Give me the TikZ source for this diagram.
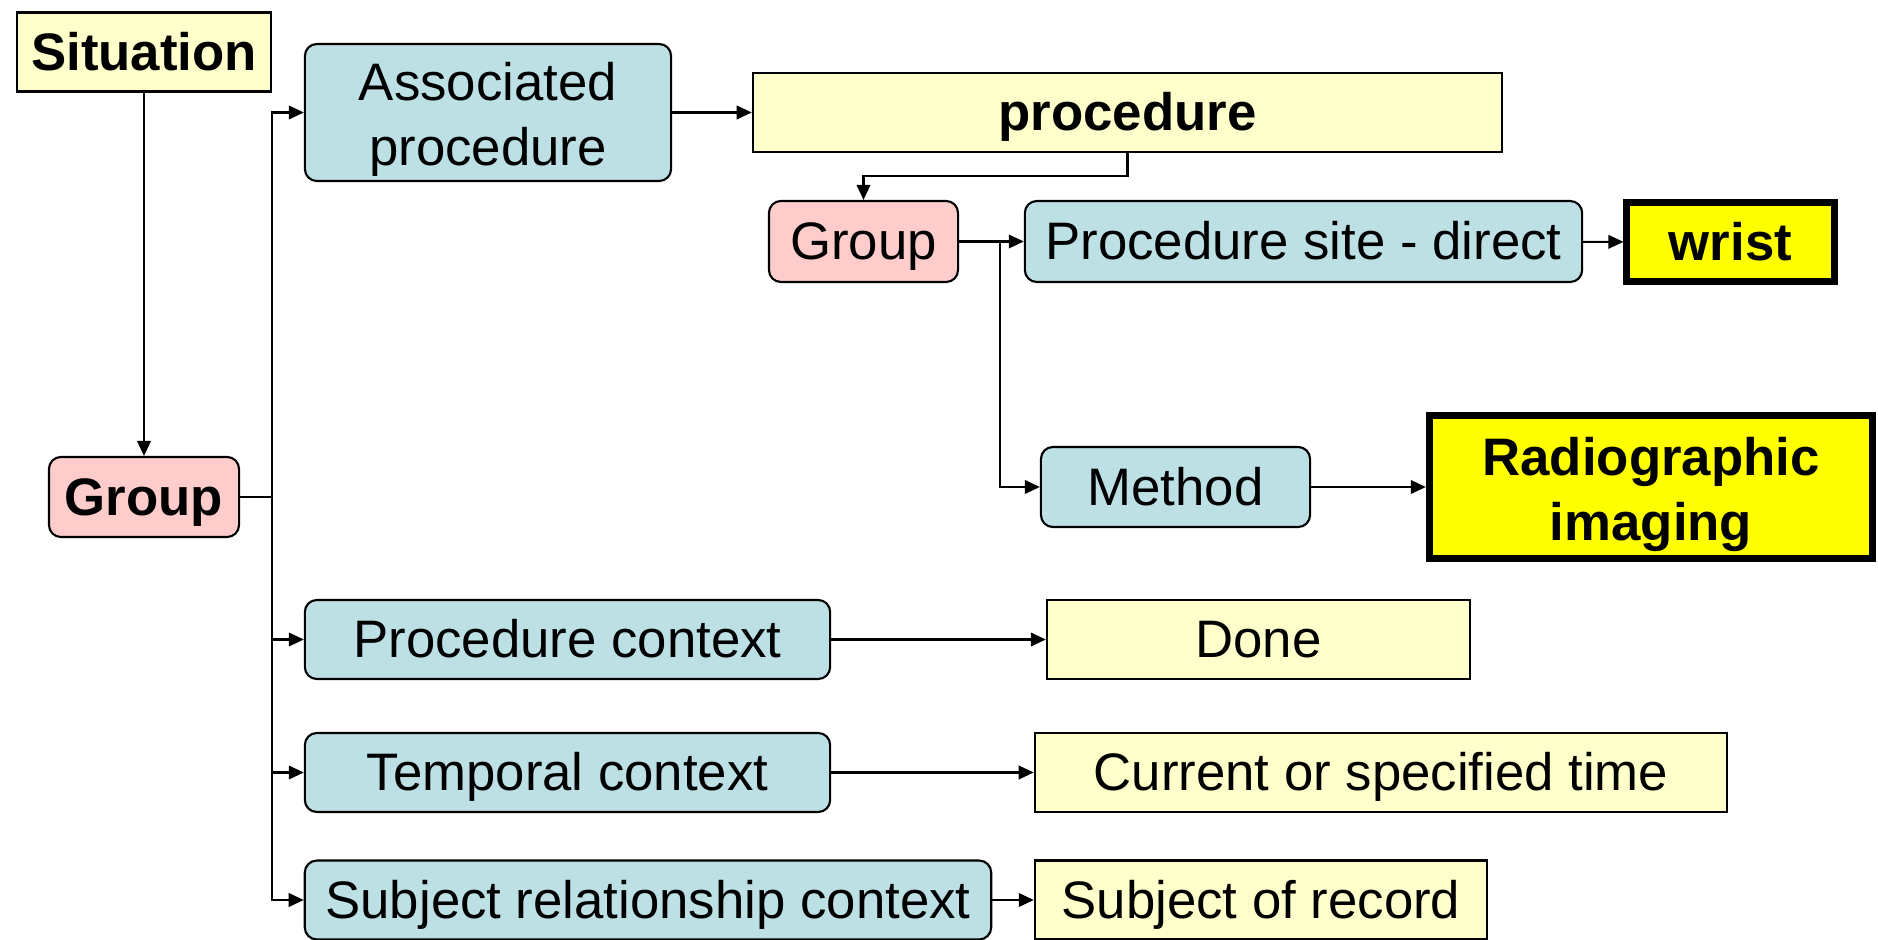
\documentclass[tikz,border=0pt]{standalone}
\usepackage{fontspec}
\setmainfont{Liberation Sans}
\usetikzlibrary{arrows.meta,calc,positioning}
\definecolor{snInk}{HTML}{000000}
\definecolor{snLemon}{HTML}{FFFFCC}
\definecolor{snPink}{HTML}{FFCCCC}
\definecolor{snTeal}{HTML}{BCE0E4}
\definecolor{snYellow}{HTML}{FFFF00}
\newcommand{\snstrut}{\rule[-.212em]{0pt}{1.117em}}
\newcommand{\snlift}{\rule{0pt}{1em}}
\tikzset{
  sn base/.style={
    draw=snInk,
    line width=.6pt,
    inner sep=1mm,
    align=center,
    font=\fontsize{15}{18.5}\selectfont,
    text=snInk,
    execute at begin node=\snstrut,
    execute at end node=\snstrut
  },
  sn concept/.style={sn base, fill=snLemon},
  sn group/.style={sn base, fill=snPink, rounded corners=1.2mm},
  sn attribute/.style={sn base, fill=snTeal, rounded corners=1.2mm},
  sn value/.style={sn base, fill=snLemon},
  sn focus/.style={sn base, fill=snYellow, line width=2pt, font=\fontsize{15}{18.5}\selectfont\bfseries},
  sn two/.style={inner ysep=.2mm},
  sn link/.style={
    draw=snInk,
    line width=.6pt,
    -{Triangle[length=1.5mm,width=1.35mm]}
  },
  sn line/.style={draw=snInk, line width=.6pt}
}

\begin{document}
\begin{tikzpicture}[x=.01cm,y=-.01cm]
  \useasboundingbox (0,0) rectangle (1878,940);

  % left column
  \node[sn concept, font=\fontsize{15}{18.5}\selectfont\bfseries,
        minimum width=2.54cm, minimum height=.78cm] (sit) at (144,52) {Situation};
  \node[sn group, font=\fontsize{15}{18.5}\selectfont\bfseries,
        minimum width=1.90cm, minimum height=.80cm] (grp1) at (144,497) {Group};

  % attributes of the situation
  \node[sn attribute, sn two, minimum width=3.66cm, minimum height=1.37cm] (assoc) at (488,112.5) {\snlift Associated\\procedure};
  \node[sn attribute, minimum width=5.25cm, minimum height=.79cm] (pctx) at (567.5,639.5) {Procedure context};
  \node[sn attribute, minimum width=5.25cm, minimum height=.79cm] (tctx) at (567.5,772.5) {Temporal context};
  \node[sn attribute, minimum width=6.86cm, minimum height=.77cm] (sctx) at (648,900) {Subject relationship context};

  % values
  \node[sn concept, font=\fontsize{15}{18.5}\selectfont\bfseries,
        minimum width=7.49cm, minimum height=.79cm] (proc) at (1127.5,112.5) {procedure};
  \node[sn value, minimum width=4.23cm, minimum height=.79cm] (done) at (1258.5,639.5) {Done};
  \node[sn value, minimum width=6.92cm, minimum height=.79cm] (time) at (1381,772.5) {Current or specified time};
  \node[sn value, minimum width=4.52cm, minimum height=.77cm] (subj) at (1261,900) {Subject of record};

  % nested procedure
  \node[sn group, minimum width=1.89cm, minimum height=.81cm] (grp2) at (863.5,241.5) {Group};
  \node[sn attribute, minimum width=5.57cm, minimum height=.81cm] (site) at (1303.5,241.5) {Procedure site - direct};
  \node[sn attribute, minimum width=2.69cm, minimum height=.80cm] (method) at (1175.5,487) {Method};
  \node[sn focus, minimum width=2.07cm, minimum height=.76cm] (wrist) at (1730.5,242) {wrist};
  \node[sn focus, sn two, minimum width=4.43cm, minimum height=1.43cm] (radio) at (1651,487) {\snlift Radiographic\\imaging};

  \coordinate (tr) at (272,0);
  \coordinate (tr2) at (1000,0);

  \draw[sn link] (sit) -- (grp1);
  \draw[sn line] (grp1.east) -- (grp1.east -| tr);
  \foreach \t in {assoc,pctx,tctx,sctx}
    \draw[sn link] (grp1.east -| tr) |- (\t.west);

  \draw[sn link] (assoc) -- (proc);
  \draw[sn link] (proc.south) -- ++(0,23) -| (grp2.north);
  \draw[sn link] (grp2) -- (site);
  \draw[sn link] (grp2.east -| tr2) |- (method.west);
  \draw[sn link] (site) -- (wrist);
  \draw[sn link] (method) -- (radio);

  \draw[sn link] (pctx) -- (done);
  \draw[sn link] (tctx) -- (time);
  \draw[sn link] (sctx) -- (subj);
\end{tikzpicture}
\end{document}
